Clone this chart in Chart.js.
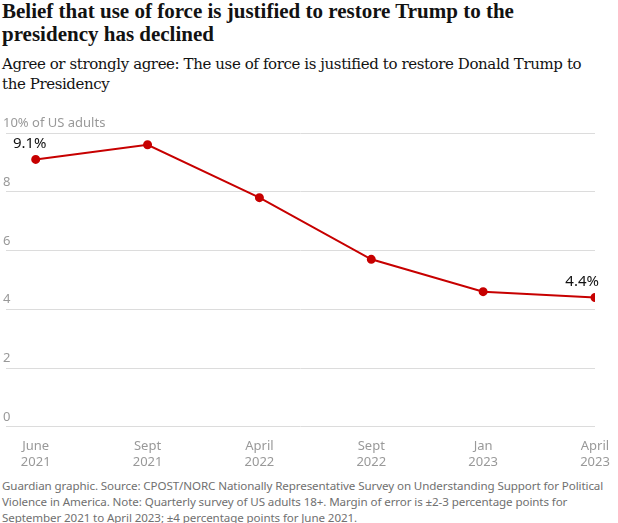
<!DOCTYPE html>
<html lang="en">
<head>
<meta charset="UTF-8">
<title>Belief in use of force</title>
<script src="https://cdn.jsdelivr.net/npm/chart.js"></script>
<style>
  body { margin: 0; width: 618px; height: 523px; background: #fff; overflow: hidden; }
  .title { position: absolute; left: 2px; top: 0px; width: 590px; font: bold 21px "Liberation Serif", serif; line-height: 23px; color: #121212; }
  .sub { position: absolute; left: 2px; top: 54px; width: 600px; font: 15px "DejaVu Serif", serif; line-height: 20px; color: #121212; letter-spacing: -0.4px; }
  .chart { position: absolute; left: 0; top: 112px; width: 618px; height: 362px; }
  .foot { position: absolute; left: 2px; top: 478px; width: 616px; font: 11.6px "Noto Sans", sans-serif; line-height: 16px; color: #707070; letter-spacing: -0.1px; }
</style>
</head>
<body>
<div class="title">Belief that use of force is justified to restore Trump to the presidency has declined</div>
<div class="sub">Agree or strongly agree: The use of force is justified to restore Donald Trump to the Presidency</div>
<div class="chart"><canvas id="c"></canvas></div>
<div class="foot">Guardian graphic. Source: CPOST/NORC Nationally Representative Survey on Understanding Support for Political Violence in America. Note: Quarterly survey of US adults 18+. Margin of error is ±2-3 percentage points for September 2021 to April 2023; ±4 percentage points for June 2021.</div>
<script>
const periods = [['June', '2021'], ['Sept', '2021'], ['April', '2022'], ['Sept', '2022'], ['Jan', '2023'], ['April', '2023']];
const shares = [9.1, 9.6, 7.8, 5.7, 4.6, 4.4];
const yTicks = ['0', '2', '4', '6', '8', '10% of US adults'];
const pointLabels = {0: '9.1%', 5: '4.4%'};

const overlay = {
  id: 'overlay',
  afterDraw(chart) {
    const ctx = chart.ctx, y = chart.scales.y;
    ctx.save();
    ctx.font = '13px "Noto Sans", sans-serif';
    ctx.fillStyle = '#999';
    ctx.textBaseline = 'bottom';
    ctx.textAlign = 'left';
    yTicks.forEach((t, i) => ctx.fillText(t, 3, y.getPixelForValue(i * 2) - 3));
    const meta = chart.getDatasetMeta(0);
    ctx.font = '15px "Noto Sans", sans-serif';
    ctx.fillStyle = '#121212';
    Object.keys(pointLabels).forEach(k => {
      const p = meta.data[k];
      ctx.textAlign = k == 0 ? 'center' : 'right';
      ctx.fillText(pointLabels[k], p.x + (k == 0 ? -6 : 4), p.y - 8);
    });
    ctx.restore();
  }
};

new Chart(document.getElementById('c'), {
  type: 'line',
  data: {
    datasets: [{
      data: shares.map((v, i) => ({x: i, y: v})),
      borderColor: '#c70000',
      backgroundColor: '#c70000',
      borderWidth: 2,
      pointRadius: 3.5,
      pointHoverRadius: 3.5,
      tension: 0
    }]
  },
  options: {
    responsive: true,
    maintainAspectRatio: false,
    animation: false,
    layout: { padding: { top: 21, right: 23, left: 0, bottom: 0 } },
    plugins: { legend: { display: false }, tooltip: { enabled: false } },
    scales: {
      x: {
        type: 'linear', min: -0.27, max: 5,
        grid: { display: false },
        border: { display: false },
        afterBuildTicks(s) { s.ticks = periods.map((_, i) => ({value: i})); },
        ticks: {
          callback: v => periods[v],
          color: '#999', padding: 4, maxRotation: 0,
          font: { family: 'Noto Sans', size: 13 }
        }
      },
      y: {
        min: 0, max: 10,
        afterFit(s) { s.width = 0; },
        ticks: { stepSize: 2, display: false },
        grid: { color: '#dcdcdc', drawTicks: false },
        border: { display: false }
      }
    }
  },
  plugins: [overlay]
});
</script>
</body>
</html>
